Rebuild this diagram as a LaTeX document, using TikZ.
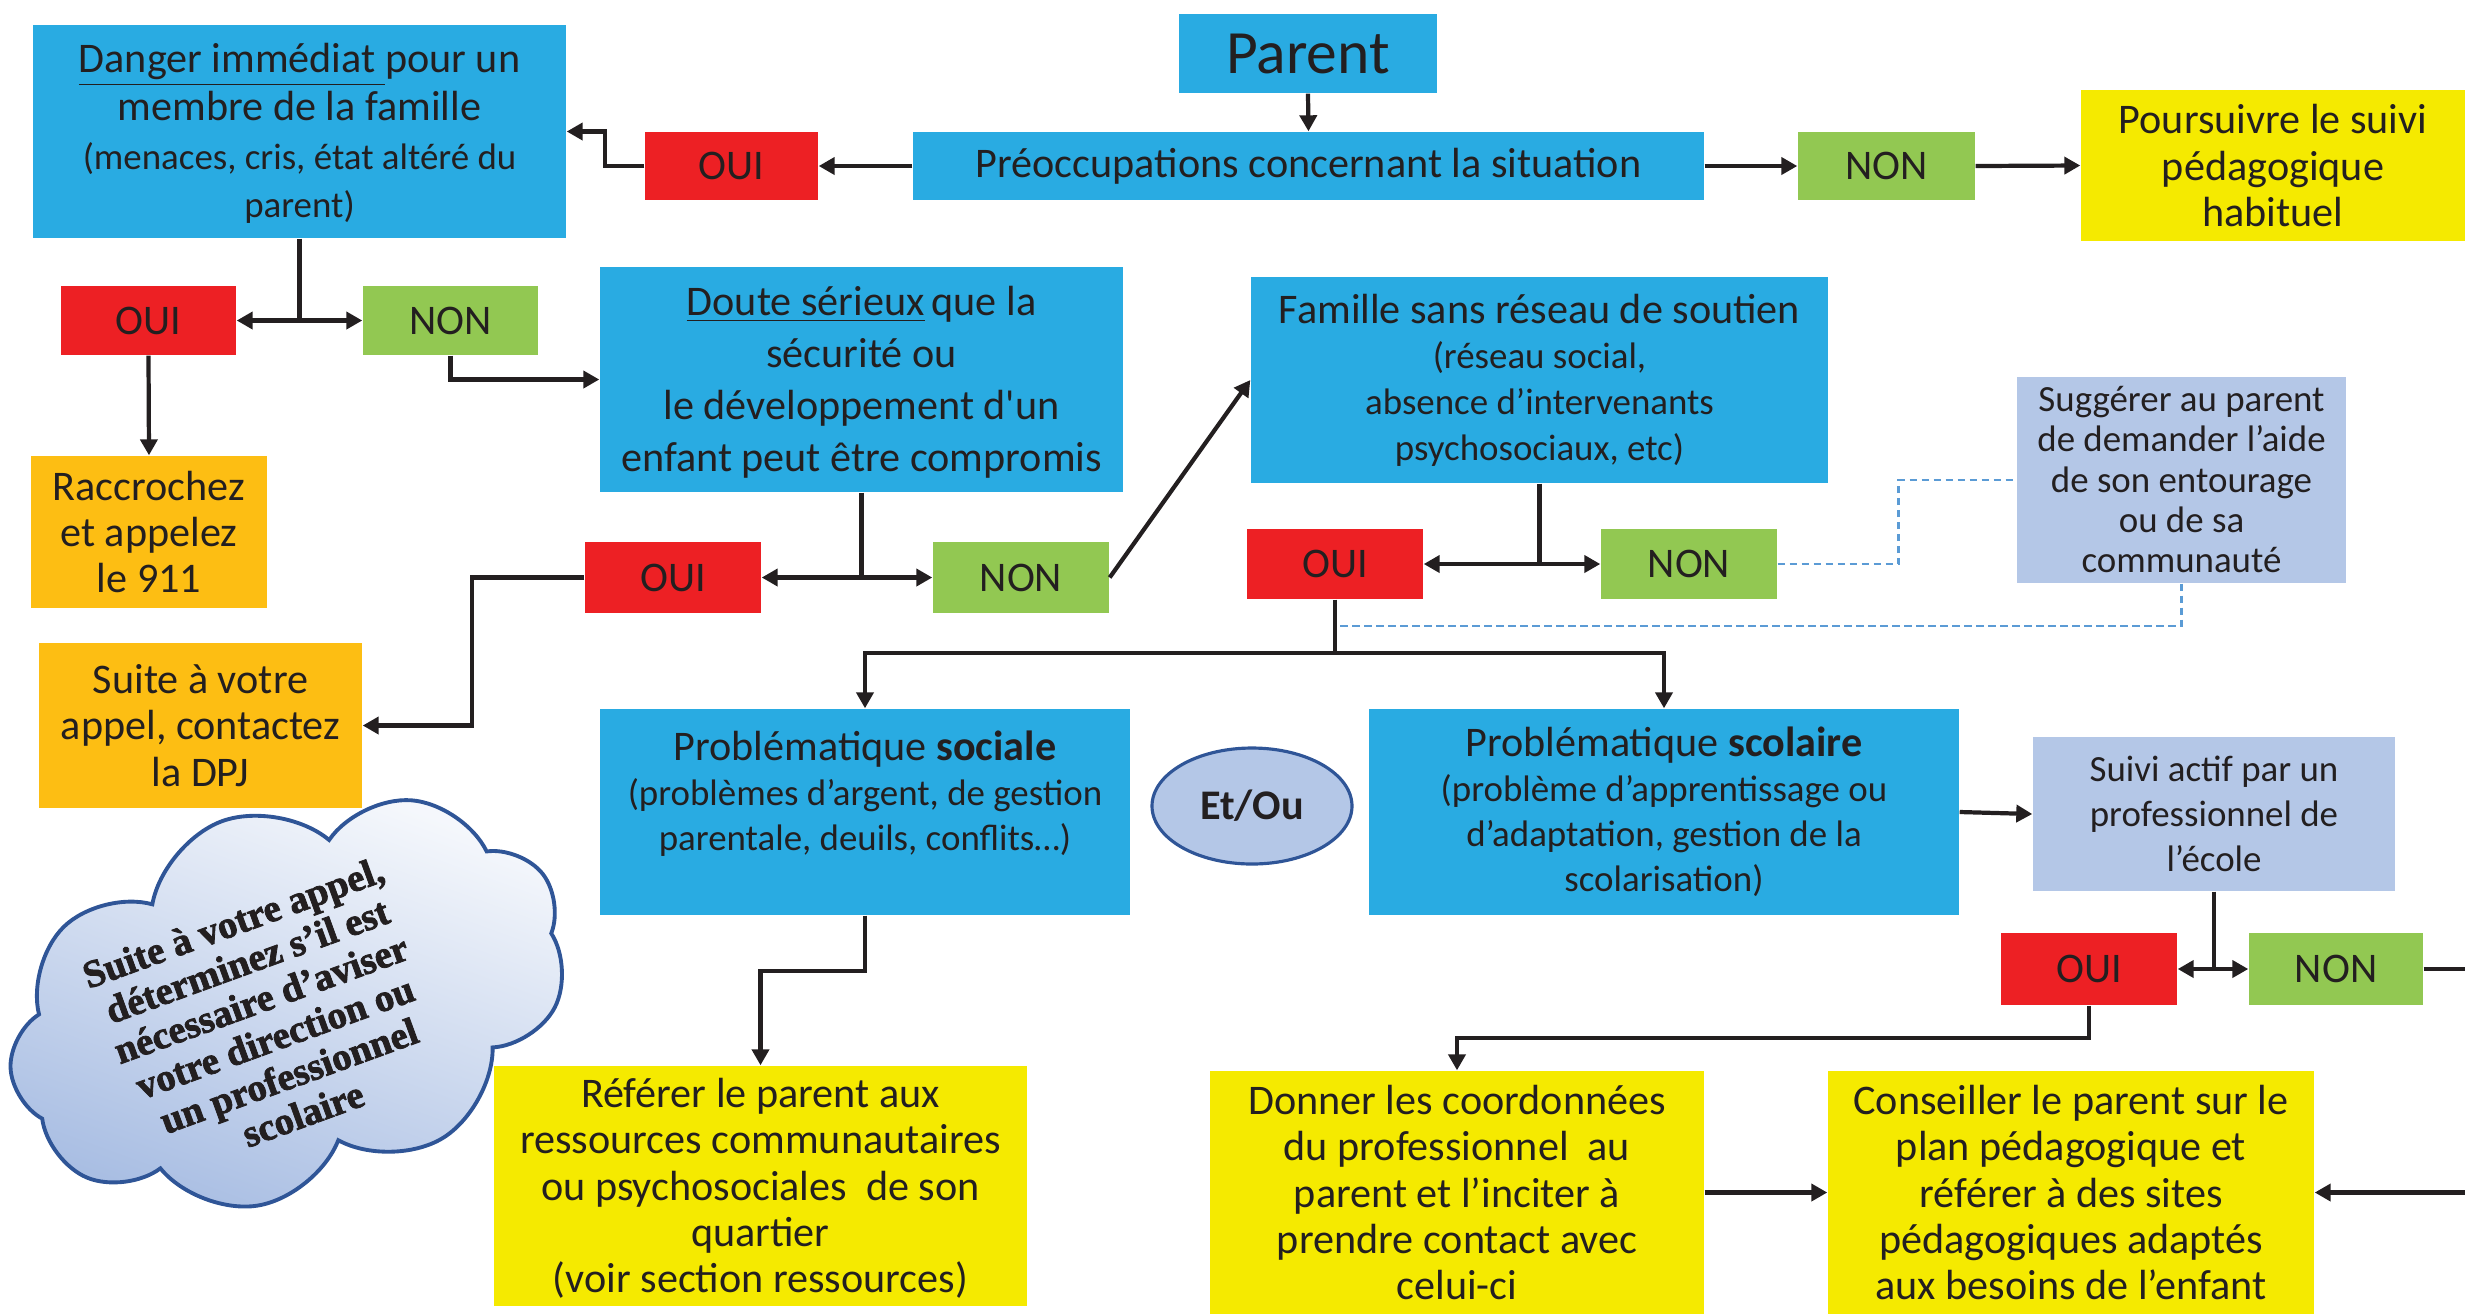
\documentclass[tikz,border=0pt]{standalone}
\usepackage{fontspec}
\setmainfont{Carlito}
\newfontface\plainq{Carlito}
\newfontfamily\cloudfont{Liberation Serif}[BoldFeatures={FakeBold=2}]
\usetikzlibrary{arrows.meta,shapes.symbols,shapes.geometric}
\definecolor{ink}{HTML}{231F20}
\definecolor{cblue}{HTML}{29ABE2}
\definecolor{cred}{HTML}{ED2024}
\definecolor{cgreen}{HTML}{92C852}
\definecolor{cyellow}{HTML}{F5EA00}
\definecolor{corange}{HTML}{FDBE13}
\definecolor{clight}{HTML}{B4C7E7}
\definecolor{cedge}{HTML}{2F5597}
\definecolor{cdash}{HTML}{5B9BD5}
\definecolor{ccloud}{HTML}{A9BEE3}
\newcommand\boxat[7]{\node[#1, minimum width={(#5-#3)*0.1mm}, minimum height={(#6-#4)*0.1mm}] (#2) at ({(#3+#5)/2},{(#4+#6)/2}) {#7};}
\newcommand\sm{\fontsize{10.5}{12.5}\selectfont}
\newcommand\sq{{\plainq\char39}}
\tikzset{
  base/.style={rectangle, inner sep=0pt, align=center, text=ink, font=\fontsize{12}{14.5}\selectfont},
  bluebox/.style={base, fill=cblue},
  redbox/.style={base, fill=cred},
  greenbox/.style={base, fill=cgreen},
  yellowbox/.style={base, fill=cyellow},
  orangebox/.style={base, fill=corange},
  lightbox/.style={base, fill=clight},
  ln/.style={draw=ink, line width=1.2pt},
  arr/.style={ln, -{Triangle[length=1.6mm,width=1.7mm]}},
  darr/.style={ln, {Triangle[length=1.6mm,width=1.7mm]}-{Triangle[length=1.6mm,width=1.7mm]}},
  dsh/.style={draw=cdash, line width=0.7pt, dash pattern=on 0.75mm off 0.45mm},
}
\begin{document}
\begin{tikzpicture}[x=0.1mm,y=-0.1mm]
\useasboundingbox (0,0) rectangle (2465,1314);
% top row
\boxat{bluebox, font=\fontsize{17.5}{20}\selectfont}{parent}{1179}{14}{1437}{93}{Parent}
\boxat{bluebox}{preoc}{913}{132}{1704}{200}{Préoccupations concernant la situation}
\boxat{redbox}{oui1}{645}{132}{818}{200}{OUI}
\boxat{greenbox}{non1}{1798}{132}{1975}{200}{NON}
\boxat{yellowbox, font=\fontsize{12}{13.2}\selectfont}{pours}{2081}{90}{2465}{241}{Poursuivre le suivi\\pédagogique\\habituel}
\boxat{bluebox, font=\fontsize{12}{13.8}\selectfont, text depth=0.2mm}{danger}{33}{25}{566}{238}{\underline{Danger immédiat\ }pour un\\membre de la famille\\\sm(menaces, cris, état altéré du\\\sm parent)}
% second level
\boxat{redbox}{oui2}{61}{286}{236}{355}{OUI}
\boxat{greenbox}{non2}{363}{286}{538}{355}{NON}
\boxat{bluebox, font=\fontsize{12}{14.8}\selectfont, text depth=0.2mm}{doute}{600}{267}{1123}{492}{\underline{Doute sérieux}\,que la\\sécurité ou\\le développement d\sq un\\enfant peut être compromis}
\boxat{orangebox, font=\fontsize{12}{13.2}\selectfont}{racc}{31}{456}{267}{608}{Raccrochez\\et appelez\\le 911}
\boxat{orangebox, font=\fontsize{12}{13.2}\selectfont}{dpj}{39}{643}{362}{808}{Suite à votre\\appel, contactez\\la DPJ}
\boxat{redbox}{oui3}{585}{542}{761}{613}{OUI}
\boxat{greenbox}{non3}{933}{542}{1109}{613}{NON}
\boxat{bluebox, font=\fontsize{12}{13}\selectfont}{famille}{1251}{277}{1828}{483}{Famille sans réseau de soutien\\\sm(réseau social,\\\sm absence d’intervenants\\\sm psychosociaux, etc)}
\boxat{redbox}{oui4}{1247}{529}{1423}{599}{OUI}
\boxat{greenbox}{non4}{1601}{529}{1777}{599}{NON}
\boxat{lightbox, font=\fontsize{10.5}{11.5}\selectfont, text depth=0.1mm}{sugg}{2017}{377}{2346}{583}{Suggérer au parent\\de demander l’aide\\de son entourage\\ou de sa\\communauté}
% third level
\boxat{bluebox, font=\fontsize{12}{12.8}\selectfont, text depth=4.2mm}{socio}{600}{709}{1130}{915}{Problématique \textbf{sociale}\\\sm(problèmes d’argent, de gestion\\\sm parentale, deuils, conflits…)}
\boxat{bluebox, font=\fontsize{12}{12.8}\selectfont}{scol}{1369}{709}{1959}{915}{Problématique \textbf{scolaire}\\\sm(problème d’apprentissage ou\\\sm d’adaptation, gestion de la\\\sm scolarisation)}
\node[ellipse, draw=cedge, line width=0.9pt, fill=clight, minimum width=20mm, minimum height=11.6mm, inner sep=0pt, text=ink, font=\fontsize{12}{14}\selectfont\bfseries] (etou) at (1252,806) {Et/Ou};
\boxat{lightbox, font=\fontsize{10.5}{12.8}\selectfont}{suivi}{2033}{737}{2395}{891}{Suivi actif par un\\professionnel de\\l’école}
\boxat{redbox}{oui5}{2001}{933}{2177}{1005}{OUI}
\boxat{greenbox}{non5}{2249}{933}{2423}{1005}{NON}
% bottom row
\boxat{yellowbox, font=\fontsize{12}{13.2}\selectfont, text depth=0.1mm}{refer}{494}{1066}{1027}{1306}{Référer le parent aux\\ressources communautaires\\ou psychosociales\ \ de son\\quartier\\(voir section ressources)}
\boxat{yellowbox, font=\fontsize{12}{13.2}\selectfont}{donner}{1210}{1071}{1704}{1314}{Donner les coordonnées\\du professionnel\ \ au\\parent et l’inciter à\\prendre contact avec\\celui-ci}
\boxat{yellowbox, font=\fontsize{12}{13.2}\selectfont}{cons}{1828}{1071}{2314}{1314}{Conseiller le parent sur le\\plan pédagogique et\\référer à des sites\\pédagogiques\ adaptés\\aux besoins de l’enfant}
% cloud
\node[cloud, cloud puffs=9, cloud puff arc=120, aspect=1.5, draw=cedge, line width=1.1pt,
      top color=ccloud!12, bottom color=ccloud, shading angle=-20,
      minimum width=57.5mm, minimum height=38.5mm, inner sep=0pt, rotate=20] (cloud) at (288,1002) {};
\node[rotate=20, align=center, text=ink, font=\cloudfont\bfseries\fontsize{11}{11.6}\selectfont] (cloudtxt) at (268,1018)
  {Suite à votre appel,\\déterminez s’il est\\nécessaire d’aviser\\votre direction ou\\un professionnel\\scolaire};
% connectors
\draw[arr] (parent.south) -- (preoc.north);
\draw[arr] (preoc.west) -- (oui1.east);
\draw[arr] (oui1.west) -- ++(-39,0) |- (danger.east);
\draw[arr] (preoc.east) -- (non1.west);
\draw[arr] (non1.east) -- (pours.west);
\draw[ln] (danger.south) -- (danger.south |- oui2.east);
\draw[darr] (oui2.east) -- (non2.west);
\draw[arr] (oui2.south) -- (racc.north);
\draw[arr] (non2.south) |- (doute.west);
\draw[ln] (doute.south) -- (doute.south |- oui3.east);
\draw[darr] (oui3.east) -- (non3.west);
\draw[arr] (oui3.west) -- ++(-112,0) |- (dpj.east);
\draw[arr] (non3.east) -- (famille.west);
\draw[ln] (famille.south) -- (famille.south |- oui4.east);
\draw[darr] (oui4.east) -- (non4.west);
\draw[dsh] (non4.east) -- ++(121,0) |- (sugg.west);
\draw[dsh] (sugg.south) |- (oui4.south |- 0,626);
\draw[ln] (oui4.south) -- (oui4.south |- 0,653);
\draw[darr] (socio.north) |- (oui4.south |- 0,653) -| (scol.north);
\draw[arr] (scol.east) -- (suivi.west);
\draw[ln] (suivi.south) -- (suivi.south |- oui5.east);
\draw[darr] (oui5.east) -- (non5.west);
\draw[arr] (non5.east) -- ++(80,0) |- (cons.east);
\draw[arr] (oui5.south) -- ++(0,32) -| (donner.north);
\draw[arr] (donner.east) -- (cons.west);
\draw[arr] (socio.south) -- ++(0,55) -| (refer.north);
\end{tikzpicture}
\end{document}
